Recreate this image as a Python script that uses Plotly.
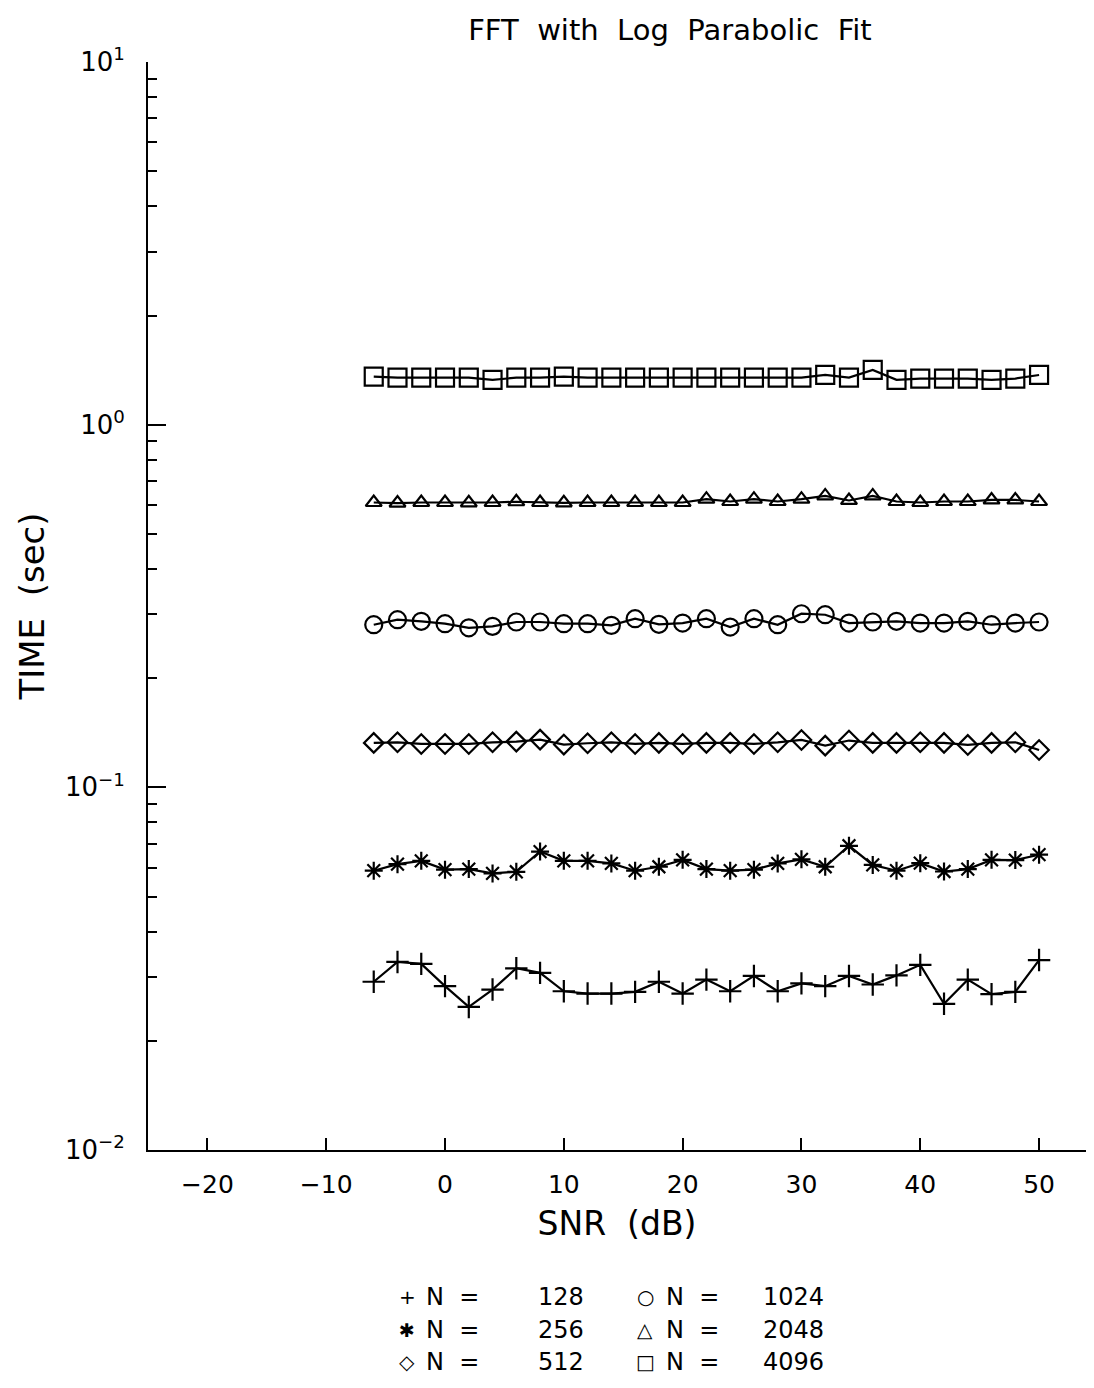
import plotly.graph_objects as go

snr = [-6, -4, -2, 0, 2, 4, 6, 8, 10, 12, 14, 16, 18, 20, 22, 24, 26, 28, 30,
       32, 34, 36, 38, 40, 42, 44, 46, 48, 50]

n128 = [0.0291, 0.0330, 0.0326, 0.0283, 0.0248, 0.0277, 0.0317, 0.0308, 0.0274,
        0.0270, 0.0270, 0.0273, 0.0291, 0.0270, 0.0295, 0.0274, 0.0302, 0.0274,
        0.0288, 0.0283, 0.0302, 0.0286, 0.0303, 0.0324, 0.0253, 0.0295, 0.0269,
        0.0273, 0.0334]
n256 = [0.0589, 0.0614, 0.0627, 0.0593, 0.0595, 0.0579, 0.0585, 0.0665, 0.0627,
        0.0627, 0.0617, 0.0589, 0.0604, 0.0631, 0.0595, 0.0589, 0.0593, 0.0617,
        0.0633, 0.0604, 0.0690, 0.0611, 0.0589, 0.0618, 0.0586, 0.0595, 0.0631,
        0.0630, 0.0652]
n512 = [0.1326, 0.1331, 0.1317, 0.1317, 0.1317, 0.1331, 0.1337, 0.1354, 0.1312,
        0.1323, 0.1331, 0.1317, 0.1326, 0.1317, 0.1326, 0.1326, 0.1317, 0.1331,
        0.1351, 0.1303, 0.1346, 0.1326, 0.1326, 0.1331, 0.1326, 0.1309, 0.1326,
        0.1331, 0.1268]
n1024 = [0.2808, 0.2899, 0.2869, 0.2826, 0.2754, 0.2779, 0.2857, 0.2857, 0.2826,
         0.2826, 0.2797, 0.2917, 0.2815, 0.2838, 0.2917, 0.2767, 0.2917, 0.2808,
         0.3011, 0.2992, 0.2838, 0.2857, 0.2869, 0.2838, 0.2838, 0.2869, 0.2808,
         0.2838, 0.2857]
n2048 = [0.610, 0.608, 0.610, 0.610, 0.609, 0.610, 0.613, 0.610, 0.609, 0.610,
         0.610, 0.610, 0.610, 0.610, 0.623, 0.614, 0.623, 0.614, 0.623, 0.636,
         0.618, 0.636, 0.614, 0.610, 0.614, 0.614, 0.620, 0.620, 0.614]
n4096 = [1.357, 1.348, 1.348, 1.348, 1.348, 1.329, 1.348, 1.348, 1.357, 1.348,
         1.348, 1.348, 1.348, 1.348, 1.348, 1.348, 1.348, 1.348, 1.348, 1.371,
         1.348, 1.416, 1.329, 1.340, 1.340, 1.340, 1.329, 1.340, 1.371]

series_names = ["128", "256", "512", "1024", "2048", "4096"]
series_vals = [n128, n256, n512, n1024, n2048, n4096]
symbols = ["cross-thin-open", "asterisk-open", "diamond-open", "circle-open",
           "triangle-up-open", "square-open"]
sizes = [16, 15, 15, 17, 14, 18]
legend_glyphs = ["+", "✱", "◇", "○", "△", "□"]

x_ticks = [-20, -10, 0, 10, 20, 30, 40, 50]
y_tickvals = [10, 1, 0.1, 0.01]
y_ticktext = ["10<sup>1</sup>", "10<sup>0</sup>", "10<sup>−1</sup>", "10<sup>−2</sup>"]
y_minor = [m * 10.0 ** e for e in (-2, -1, 0) for m in range(2, 10)]

FONT = "DejaVu Sans"
# page body has an 8px margin, so the figure is 16px smaller than the window
W, H = 1078, 1372
L, T = 140, 54

fig = go.Figure()
for name, vals, sym, sz in zip(series_names, series_vals, symbols, sizes):
    fig.add_trace(go.Scatter(
        x=snr, y=vals, mode="lines+markers", name=f"N = {name}",
        line=dict(color="black", width=2.2),
        marker=dict(symbol=sym, size=sz, color="black",
                    line=dict(color="black", width=2.2)),
        showlegend=False,
    ))

fig.update_layout(
    width=W, height=H,
    margin=dict(l=L, r=0, t=T, b=0),
    paper_bgcolor="white", plot_bgcolor="white",
    font=dict(family=FONT, color="black", size=24),
    title=dict(text="FFT  with  Log  Parabolic  Fit", x=0.614, xanchor="center",
               y=0.984, yanchor="middle", font=dict(size=29)),
    showlegend=False,
)

fig.update_xaxes(
    range=[-25, 53.95], domain=[0, 1], automargin=False,
    tickvals=x_ticks, ticktext=[str(v).replace("-", "−") for v in x_ticks],
    ticks="inside", ticklen=12, tickwidth=2, tickcolor="black",
    showline=True, linewidth=2, linecolor="black",
    showgrid=False, zeroline=False,
    tickfont=dict(size=25), ticklabelstandoff=11,
    title=dict(text="SNR  (dB)", font=dict(size=33), standoff=14),
)
fig.update_yaxes(
    type="log", range=[-2, 1], domain=[0.1745, 1], automargin=False,
    tickvals=y_tickvals, ticktext=y_ticktext,
    ticks="inside", ticklen=18, tickwidth=2, tickcolor="black",
    minor=dict(tickvals=y_minor, ticks="inside", ticklen=9, tickwidth=1.5,
               tickcolor="black", showgrid=False),
    showline=True, linewidth=2, linecolor="black",
    showgrid=False, zeroline=False,
    tickfont=dict(size=26), ticklabelstandoff=16,
    title=dict(text="TIME  (sec)", font=dict(size=34), standoff=10),
)

# Legend drawn as text in two columns, three rows (figure pixel positions)
row_y = [1289, 1322, 1354]
col_sym_x = [399, 637]
col_n_x = [416, 656]
col_num_x = [578, 818]
def px_to_paper_x(px):
    return (px - L) / (W - L)
def px_to_paper_y(py):
    return (H - py) / (H - T)

for i, (name, glyph) in enumerate(zip(series_names, legend_glyphs)):
    col, row = divmod(i, 3)
    yy = px_to_paper_y(row_y[row])
    fig.add_annotation(xref="paper", yref="paper", x=px_to_paper_x(col_sym_x[col]), y=yy,
                       text=glyph, showarrow=False, xanchor="center", yanchor="middle",
                       font=dict(size=20 if glyph != "✱" else 19))
    fig.add_annotation(xref="paper", yref="paper", x=px_to_paper_x(col_n_x[col]), y=yy,
                       text="N  =", showarrow=False, xanchor="left", yanchor="middle",
                       font=dict(size=24))
    fig.add_annotation(xref="paper", yref="paper", x=px_to_paper_x(col_num_x[col]), y=yy,
                       text=name, showarrow=False, xanchor="right", yanchor="middle",
                       font=dict(size=24))

fig.write_html("out.html")
